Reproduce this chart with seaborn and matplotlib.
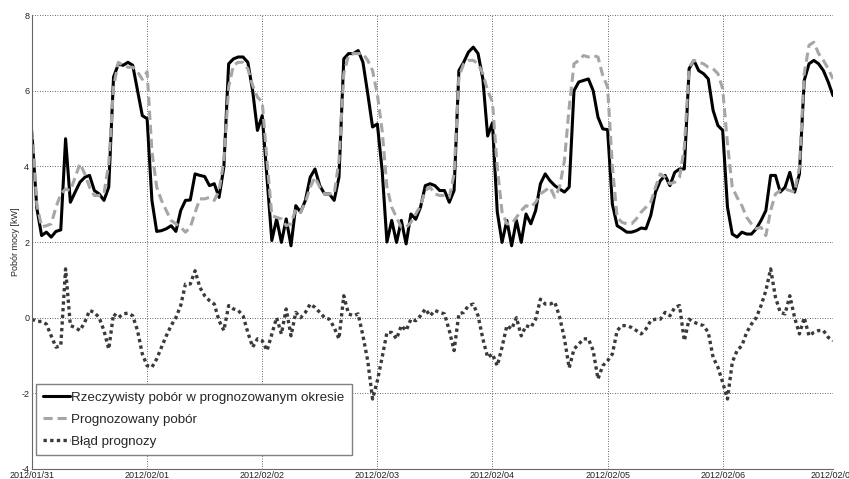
"""Rzeczywisty vs prognozowany pobór mocy, z błędem prognozy (dane godzinowe)."""

import matplotlib

matplotlib.use("Agg")

import matplotlib.pyplot as plt
import pandas as pd
import seaborn as sns

# godzinowe wartości, 2012/01/31 00:00 .. 2012/02/06 23:00
actual = [
    4.85, 2.9, 2.17, 2.26, 2.13, 2.28, 2.32, 4.73, 3.05, 3.32, 3.58, 3.71,
    3.76, 3.36, 3.27, 3.1, 3.45, 6.36, 6.7, 6.67, 6.75, 6.67, 6.0, 5.34,
    5.26, 3.1, 2.28, 2.3, 2.35, 2.43, 2.28, 2.83, 3.1, 3.11, 3.8, 3.76,
    3.73, 3.49, 3.54, 3.18, 3.98, 6.71, 6.84, 6.89, 6.89, 6.75, 6.0, 4.95,
    5.34, 3.7, 2.04, 2.61, 1.99, 2.61, 1.9, 2.96, 2.79, 3.1, 3.71, 3.93,
    3.49, 3.27, 3.27, 3.1, 3.71, 6.84, 6.98, 6.98, 7.06, 6.75, 5.92, 5.04,
    5.12, 3.9, 2.0, 2.57, 1.99, 2.57, 1.95, 2.74, 2.6, 2.92, 3.49, 3.54,
    3.49, 3.36, 3.36, 3.05, 3.36, 6.53, 6.75, 7.02, 7.15, 6.98, 6.31, 4.8,
    5.15, 2.8, 1.99, 2.57, 1.9, 2.57, 1.99, 2.74, 2.48, 2.83, 3.54, 3.8,
    3.62, 3.49, 3.4, 3.32, 3.45, 6.0, 6.23, 6.27, 6.31, 6.0, 5.3, 4.99,
    4.97, 3.0, 2.43, 2.35, 2.26, 2.26, 2.3, 2.37, 2.35, 2.7, 3.32, 3.62,
    3.76, 3.49, 3.84, 3.93, 3.93, 6.58, 6.8, 6.53, 6.45, 6.31, 5.48, 5.08,
    4.95, 2.92, 2.21, 2.13, 2.26, 2.21, 2.21, 2.35, 2.57, 2.83, 3.76, 3.76,
    3.32, 3.45, 3.84, 3.32, 3.8, 6.27, 6.71, 6.8, 6.71, 6.53, 6.23, 5.87,
]
forecast = [
    4.95, 3.0, 2.4, 2.43, 2.48, 2.92, 3.27, 3.4, 3.36, 3.71, 4.07, 3.8,
    3.45, 3.23, 3.23, 3.27, 4.07, 6.1, 6.75, 6.67, 6.62, 6.62, 6.5, 6.3,
    6.5, 4.4, 3.45, 3.1, 2.83, 2.57, 2.48, 2.39, 2.26, 2.39, 2.78, 3.14,
    3.14, 3.18, 3.1, 3.36, 4.15, 6.1, 6.67, 6.75, 6.75, 6.58, 6.14, 5.83,
    5.7, 4.15, 2.7, 2.65, 2.61, 2.43, 2.48, 2.87, 2.79, 3.05, 3.45, 3.71,
    3.45, 3.27, 3.27, 3.27, 4.15, 6.45, 6.93, 6.98, 6.98, 6.98, 6.8, 6.53,
    5.9, 4.95, 3.45, 2.92, 2.65, 2.39, 2.39, 2.52, 2.74, 2.96, 3.36, 3.45,
    3.27, 3.23, 3.23, 3.18, 3.8, 6.36, 6.71, 6.8, 6.8, 6.71, 6.45, 6.0,
    5.7, 3.98, 2.79, 2.48, 2.48, 2.65, 2.83, 2.96, 2.92, 3.05, 3.27, 3.36,
    3.45, 3.18, 3.45, 4.15, 5.56, 6.71, 6.8, 6.93, 6.89, 6.93, 6.89, 6.4,
    6.1, 4.0, 2.65, 2.52, 2.48, 2.48, 2.61, 2.79, 2.92, 3.05, 3.45, 3.8,
    3.71, 3.54, 3.58, 3.71, 4.5, 6.62, 6.8, 6.75, 6.71, 6.62, 6.58, 6.45,
    6.05, 4.59, 3.45, 3.18, 2.96, 2.65, 2.48, 2.35, 2.39, 2.17, 2.83, 3.27,
    3.36, 3.4, 3.36, 3.32, 3.98, 6.45, 7.2, 7.28, 6.98, 6.8, 6.58, 6.31,
]
error = [
    -0.04, -0.1, -0.1, -0.17, -0.48, -0.78, -0.74, 1.29, -0.21, -0.26, -0.34, -0.12,
    0.19, 0.14, 0.0, -0.34, -0.83, 0.1, 0.0, 0.1, 0.12, 0.05, -0.34, -0.96,
    -1.27, -1.31, -1.09, -0.78, -0.48, -0.21, 0.0, 0.32, 0.89, 0.89, 1.24, 0.8,
    0.58, 0.45, 0.36, -0.08, -0.34, 0.32, 0.23, 0.19, 0.05, -0.39, -0.78, -0.56,
    -0.61, -0.87, -0.43, 0.0, -0.43, 0.23, -0.48, 0.14, 0.0, 0.14, 0.36, 0.27,
    0.14, 0.0, -0.04, -0.26, -0.56, 0.58, 0.1, 0.05, 0.1, -0.48, -1.14, -2.15,
    -1.67, -1.05, -0.39, -0.39, -0.56, -0.21, -0.34, -0.04, -0.08, 0.05, 0.23, 0.05,
    0.19, 0.14, 0.1, -0.34, -0.87, 0.1, 0.14, 0.32, 0.36, 0.05, -0.56, -1.05,
    -0.96, -1.27, -0.78, -0.21, -0.3, 0.0, -0.48, -0.21, -0.26, -0.04, 0.49, 0.36,
    0.36, 0.41, 0.02, -0.55, -1.33, -0.83, -0.7, -0.56, -0.56, -0.87, -1.62, -1.27,
    -1.14, -0.96, -0.34, -0.21, -0.21, -0.26, -0.34, -0.43, -0.3, -0.08, -0.04, -0.04,
    0.14, 0.05, 0.27, 0.32, -0.61, -0.04, -0.12, -0.17, -0.21, -0.39, -1.05, -1.31,
    -1.71, -2.15, -1.18, -0.87, -0.74, -0.39, -0.17, 0.0, 0.32, 0.71, 1.29, 0.54,
    0.14, 0.1, 0.58, 0.0, -0.43, 0.0, -0.48, -0.39, -0.34, -0.34, -0.52, -0.61,
]
day_labels = [
    "2012/01/31", "2012/02/01", "2012/02/02", "2012/02/03",
    "2012/02/04", "2012/02/05", "2012/02/06", "2012/02/07",
]
y_ticks = [-4, -2, 0, 2, 4, 6, 8]

hours = list(range(len(actual)))
df = pd.DataFrame({"h": hours, "actual": actual, "forecast": forecast, "error": error})

sns.set_theme(style="white")
plt.rcParams["font.family"] = ["Liberation Sans", "DejaVu Sans"]

fig = plt.figure(figsize=(8.49, 4.79), dpi=100)
ax = fig.add_axes([32 / 849, 10 / 479, 801 / 849, 454 / 479])

sns.lineplot(data=df, x="h", y="actual", ax=ax, color="black", lw=2.2,
             label="Rzeczywisty pobór w prognozowanym okresie")
sns.lineplot(data=df, x="h", y="forecast", ax=ax, color="#a6a6a6", lw=2.2,
             linestyle=(0, (3, 1.6)), label="Prognozowany pobór")
sns.lineplot(data=df, x="h", y="error", ax=ax, color="#3a3a3a", lw=2.4,
             linestyle=(0, (1, 1)), label="Błąd prognozy")

last = len(actual) - 1
ax.set_xlim(0, last)
ax.set_ylim(-4, 8)
ax.set_xticks(list(range(0, last, 24)) + [last])
ax.set_xticklabels(day_labels)
ax.set_yticks(y_ticks)
ax.set_yticklabels([str(t) for t in y_ticks])
ax.set_xlabel("")
ax.set_ylabel("Pobór mocy [kW]", fontsize=6.5, labelpad=1)

ax.grid(True, color="#333333", linestyle=(0, (1, 2)), linewidth=0.6)
for side in ("top", "right"):
    ax.spines[side].set_visible(False)
for side in ("left", "bottom"):
    ax.spines[side].set_color("#666666")
    ax.spines[side].set_linewidth(0.8)
ax.tick_params(axis="both", direction="in", length=2.5, width=0.6,
               labelsize=6.5, pad=2, colors="#333333", labelcolor="#222222")
ax.tick_params(axis="x", pad=1.5)

leg = ax.legend(loc="lower left", bbox_to_anchor=(0.005, 0.031), borderaxespad=0,
                fontsize=9.6, frameon=True, fancybox=False, framealpha=1,
                edgecolor="#808080", handlelength=2.0, handletextpad=0.1,
                labelspacing=0.72, borderpad=0.55)
leg.get_frame().set_linewidth(1.0)

fig.savefig("out.png", dpi=100)
